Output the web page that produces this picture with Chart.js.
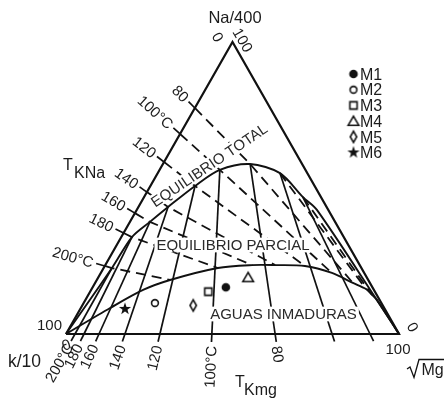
<!DOCTYPE html>
<html>
<head>
<meta charset="utf-8">
<script src="https://cdn.jsdelivr.net/npm/chart.js@4/dist/chart.umd.min.js"></script>
<style>
  html, body { margin: 0; padding: 0; background: #fff; }
  canvas { display: block; }
</style>
</head>
<body>
<canvas id="chart" width="444" height="402"></canvas>
<script>
// ---- Na–K–Mg geothermometer triangle (Na/400, K/10, √Mg), compositions in % ----

// isotherm temperatures (°C)
const temperatures = [200, 180, 160, 140, 120, 100, 80, 60, 40];
const kNaTickLabels = ['200°C', '180', '160', '140', '120', '100°C', '80', '', ''];
const kMgTickLabels = ['200°C', '180', '160', '140', '120', '100°C', '80', '', ''];

// T_KNa ticks on the Na–K side: Na share of Na+K (%)
const kNaTickNa = [23.3, 34.6, 41.4, 48.6, 58.9, 68.5, 77.4, null, null];
// T_Kmg ticks on the K–Mg side: Mg share of K+Mg (%)
const kMgTickMg = [2.7, 5.4, 9.9, 17.7, 28.2, 43.8, 62.8, 79.9, 91.3];

// full-equilibrium points of each isotherm
const fullNa = [22.6, 33.2, 38.4, 43.5, 50.7, 56.2, 58.2, 55.1, 46.9];
const fullK  = [74.9, 63.6, 55.6, 47.6, 35.9, 25.7, 15.6,  8.2,  5.4];
const fullMg = [ 2.5,  3.2,  6.0,  8.9, 13.4, 18.1, 26.2, 36.7, 47.7];
// rest of the full-equilibrium curve towards the Mg corner
const fullTailNa = [42.5, 11.6];
const fullTailK  = [ 3.4,  0.8];
const fullTailMg = [54.1, 87.6];

// where each T_KNa isotherm meets the immature-water line
const immatureNa = [18.5, 22.6, 23.6, 23.6, 23.3, 20.9, 17.5, 15.4, 13.4];
const immatureK  = [59.5, 43.1, 32.3, 25.4, 16.6,  9.7,  5.1,  2.2,  1.4];
const immatureMg = [22.0, 34.3, 44.1, 51.0, 60.1, 69.4, 77.4, 82.4, 85.2];
// start and end of the immature-water line
const immatureHeadNa = [8.9, 15.1];
const immatureHeadK  = [82.3, 69.3];
const immatureHeadMg = [8.8, 15.6];
const immatureTailNa = [11.6];
const immatureTailK  = [0.8];
const immatureTailMg = [87.6];

// samples
const sampleNames = ['M1', 'M2', 'M3', 'M4', 'M5', 'M6'];
const sampleNa = [16.0, 10.6, 14.5, 19.4,  9.8,  8.6];
const sampleK  = [44.0, 68.0, 50.0, 35.6, 56.9, 78.0];
const sampleMg = [40.0, 21.4, 35.5, 45.0, 33.3, 13.4];

// ---- styling / layout ----
const INK = '#111';
const TEXT = '#1c1c1c';
const FONT = '"Liberation Sans", Arial, Helvetica, sans-serif';
const layout = {
  padding: { left: 66, right: 45, top: 42, bottom: 68 },
  kNaTick: 9, kNaGap: 3,
  kMgTick: 8, kMgGap: 4,
  tickFont: 15,
  legend: { x: 353.5, textX: 360, top: 74, step: 15.7, font: 16 },
  regions: [
    { text: 'EQUILIBRIO TOTAL', x: 209, y: 165, angle: -34, size: 15 },
    { text: 'EQUILIBRIO PARCIAL', x: 233, y: 245, angle: 0, size: 15 },
    { text: 'AGUAS INMADURAS', x: 283.5, y: 314, angle: 0, size: 15 }
  ]
};

const SQ3 = Math.sqrt(3) / 2;
// ternary composition -> plane coordinates (K at origin, Mg to the right, Na on top)
function tern(na, k, mg) {
  const s = na + k + mg;
  return { x: (mg + na / 2) / s * 100, y: na / s * 100 * SQ3 };
}

function makeMarker(kind) {
  const c = document.createElement('canvas');
  c.width = 16; c.height = 16;
  const g = c.getContext('2d');
  g.translate(8, 8);
  g.strokeStyle = INK; g.fillStyle = INK; g.lineWidth = 1.6;
  g.beginPath();
  if (kind === 'dot') { g.arc(0, 0, 4.3, 0, Math.PI * 2); g.fill(); }
  else if (kind === 'ring') { g.arc(0, 0, 3.4, 0, Math.PI * 2); g.stroke(); }
  else if (kind === 'square') { g.rect(-3.6, -3.6, 7.2, 7.2); g.stroke(); }
  else if (kind === 'triangle') { g.moveTo(0, -4.8); g.lineTo(5.3, 4.2); g.lineTo(-5.3, 4.2); g.closePath(); g.stroke(); }
  else if (kind === 'diamond') { g.moveTo(0, -5.6); g.lineTo(3.2, 0); g.lineTo(0, 5.6); g.lineTo(-3.2, 0); g.closePath(); g.stroke(); }
  else if (kind === 'star') {
    for (let i = 0; i < 10; i++) {
      const r = i % 2 ? 2.6 : 6.4;
      const a = -Math.PI / 2 + i * Math.PI / 5;
      g.lineTo(r * Math.cos(a), r * Math.sin(a));
    }
    g.closePath(); g.fill();
  }
  return c;
}
const markerImgs = ['dot', 'ring', 'square', 'triangle', 'diamond', 'star'].map(makeMarker);

function lineSet(points, extra) {
  return Object.assign({
    data: points, showLine: true, borderColor: INK, borderWidth: 1.7,
    pointRadius: 0, pointHoverRadius: 0, tension: 0, fill: false, clip: false
  }, extra || {});
}

const datasets = [];
// samples first so they are painted on top
sampleNames.forEach((name, i) => {
  datasets.push({
    label: name, data: [tern(sampleNa[i], sampleK[i], sampleMg[i])],
    pointStyle: markerImgs[i], pointRadius: 6, pointHoverRadius: 6,
    showLine: false, clip: false
  });
});

// triangle frame
datasets.push(lineSet([tern(0, 100, 0), tern(0, 0, 100), tern(100, 0, 0), tern(0, 100, 0)],
  { borderWidth: 2.2, borderJoinStyle: 'miter' }));

// full-equilibrium curve
const fullCurve = [tern(0, 100, 0)]
  .concat(temperatures.map((t, i) => tern(fullNa[i], fullK[i], fullMg[i])))
  .concat(fullTailNa.map((v, i) => tern(v, fullTailK[i], fullTailMg[i])))
  .concat([tern(0, 0, 100)]);
datasets.push(lineSet(fullCurve, { tension: 0.3, borderWidth: 1.9 }));

// immature-water line
const immatureCurve = [tern(0, 100, 0)]
  .concat(immatureHeadNa.map((v, i) => tern(v, immatureHeadK[i], immatureHeadMg[i])))
  .concat(temperatures.map((t, i) => tern(immatureNa[i], immatureK[i], immatureMg[i])))
  .concat(immatureTailNa.map((v, i) => tern(v, immatureTailK[i], immatureTailMg[i])))
  .concat([tern(0, 0, 100)]);
datasets.push(lineSet(immatureCurve, { tension: 0.3, borderWidth: 1.9 }));

// T_Kmg isotherms (solid) and T_KNa isotherms (dashed)
temperatures.forEach((t, i) => {
  const eq = tern(fullNa[i], fullK[i], fullMg[i]);
  datasets.push(lineSet([tern(0, 100 - kMgTickMg[i], kMgTickMg[i]), eq], { borderWidth: 1.7 }));
  const dashed = [];
  if (kNaTickNa[i] != null) dashed.push(tern(kNaTickNa[i], 100 - kNaTickNa[i], 0));
  dashed.push(eq, tern(immatureNa[i], immatureK[i], immatureMg[i]));
  datasets.push(lineSet(dashed, { borderWidth: 1.8, borderDash: [10, 6] }));
});

// ---- text, ticks and legend ----
function capCenterText(ctx, text, x, y, size, align) {
  ctx.font = size + 'px ' + FONT;
  ctx.textAlign = align || 'left';
  ctx.textBaseline = 'alphabetic';
  ctx.fillText(text, x, y + 0.716 * size / 2);
}

function tickWithLabel(ctx, p, q, len, gap, text) {
  const dx = p.x - q.x, dy = p.y - q.y, n = Math.hypot(dx, dy);
  const ux = dx / n, uy = dy / n;
  const ex = p.x + ux * len, ey = p.y + uy * len;
  ctx.beginPath(); ctx.moveTo(p.x, p.y); ctx.lineTo(ex, ey); ctx.stroke();
  if (!text) return;
  const size = layout.tickFont;
  ctx.font = size + 'px ' + FONT;
  const w = ctx.measureText(text).width;
  const cx = ex + ux * (gap + w / 2), cy = ey + uy * (gap + w / 2);
  let ang = Math.atan2(uy, ux);
  if (ang > Math.PI / 2) ang -= Math.PI;
  if (ang <= -Math.PI / 2) ang += Math.PI;
  ctx.save();
  ctx.translate(cx, cy); ctx.rotate(ang);
  capCenterText(ctx, text, 0, 0, size, 'center');
  ctx.restore();
}

function rotatedText(ctx, text, x, y, deg, size) {
  ctx.save();
  ctx.translate(x, y); ctx.rotate(deg * Math.PI / 180);
  capCenterText(ctx, text, 0, 0, size, 'center');
  ctx.restore();
}

function drawDecor(chart) {
  const ctx = chart.ctx;
  const xs = chart.scales.x, ys = chart.scales.y;
  const px = p => ({ x: xs.getPixelForValue(p.x), y: ys.getPixelForValue(p.y) });
  ctx.save();
  ctx.strokeStyle = INK; ctx.fillStyle = TEXT; ctx.lineWidth = 1.7; ctx.lineCap = 'butt';

  // isotherm ticks and their temperature labels
  temperatures.forEach((t, i) => {
    const eq = px(tern(fullNa[i], fullK[i], fullMg[i]));
    if (kNaTickNa[i] != null) {
      tickWithLabel(ctx, px(tern(kNaTickNa[i], 100 - kNaTickNa[i], 0)), eq,
        layout.kNaTick, layout.kNaGap, kNaTickLabels[i]);
    }
    tickWithLabel(ctx, px(tern(0, 100 - kMgTickMg[i], kMgTickMg[i])), eq,
      layout.kMgTick, layout.kMgGap, kMgTickLabels[i]);
  });

  // field names on white ground
  layout.regions.forEach(r => {
    ctx.save();
    ctx.translate(r.x, r.y); ctx.rotate(r.angle * Math.PI / 180);
    ctx.font = r.size + 'px ' + FONT;
    const w = ctx.measureText(r.text).width, cap = 0.716 * r.size;
    ctx.fillStyle = '#fff';
    ctx.fillRect(-w / 2 - 2, -cap / 2 - 2, w + 4, cap + 4);
    ctx.fillStyle = '#2a2a2a';
    capCenterText(ctx, r.text, 0, 0, r.size, 'center');
    ctx.restore();
  });

  // corner scale values
  const na = px(tern(100, 0, 0)), k = px(tern(0, 100, 0)), mg = px(tern(0, 0, 100));
  rotatedText(ctx, '0', na.x - 14.5, na.y - 5, 60, 15);
  rotatedText(ctx, '100', na.x + 10.5, na.y - 2, 60, 15);
  capCenterText(ctx, '100', k.x - 4, k.y - 9, 15, 'right');
  rotatedText(ctx, '0', k.x, k.y + 10.5, -20, 15);
  capCenterText(ctx, '100', mg.x - 1, mg.y + 15, 15, 'center');
  rotatedText(ctx, '0', mg.x + 14, mg.y - 7, 60, 15);

  // axis titles
  capCenterText(ctx, 'Na/400', na.x + 2.5, 17.5, 16.5, 'center');
  capCenterText(ctx, 'k/10', 8, 360.5, 17.5, 'left');
  capCenterText(ctx, 'T', 63, 164, 16, 'left');
  capCenterText(ctx, 'KNa', 74, 172, 16, 'left');
  capCenterText(ctx, 'T', 235, 381, 16, 'left');
  capCenterText(ctx, 'Kmg', 244, 389, 16, 'left');
  // √Mg
  capCenterText(ctx, 'Mg', 421.5, 369, 16, 'left');
  ctx.lineWidth = 1.3;
  ctx.beginPath();
  ctx.moveTo(407, 369); ctx.lineTo(410, 367); ctx.lineTo(414, 377.5);
  ctx.lineTo(419, 359.5); ctx.lineTo(444, 359.5);
  ctx.stroke();

  // legend
  const lg = layout.legend;
  sampleNames.forEach((name, i) => {
    const y = lg.top + i * lg.step;
    const img = markerImgs[i];
    ctx.drawImage(img, lg.x - img.width / 2, y - img.height / 2);
    ctx.fillStyle = TEXT;
    capCenterText(ctx, name, lg.textX, y, lg.font, 'left');
  });
  ctx.restore();
}

const decor = {
  id: 'decor',
  beforeDatasetDraw(chart, args) {
    // painted once, after every line and before the sample markers
    if (args.index === sampleNames.length - 1) drawDecor(chart);
  }
};

new Chart(document.getElementById('chart'), {
  type: 'scatter',
  data: { datasets },
  options: {
    responsive: false,
    animation: false,
    events: [],
    layout: { padding: layout.padding },
    scales: {
      x: { type: 'linear', min: 0, max: 100, display: false },
      y: { type: 'linear', min: 0, max: 100 * SQ3, display: false }
    },
    plugins: { legend: { display: false }, tooltip: { enabled: false } }
  },
  plugins: [decor]
});
</script>
</body>
</html>
